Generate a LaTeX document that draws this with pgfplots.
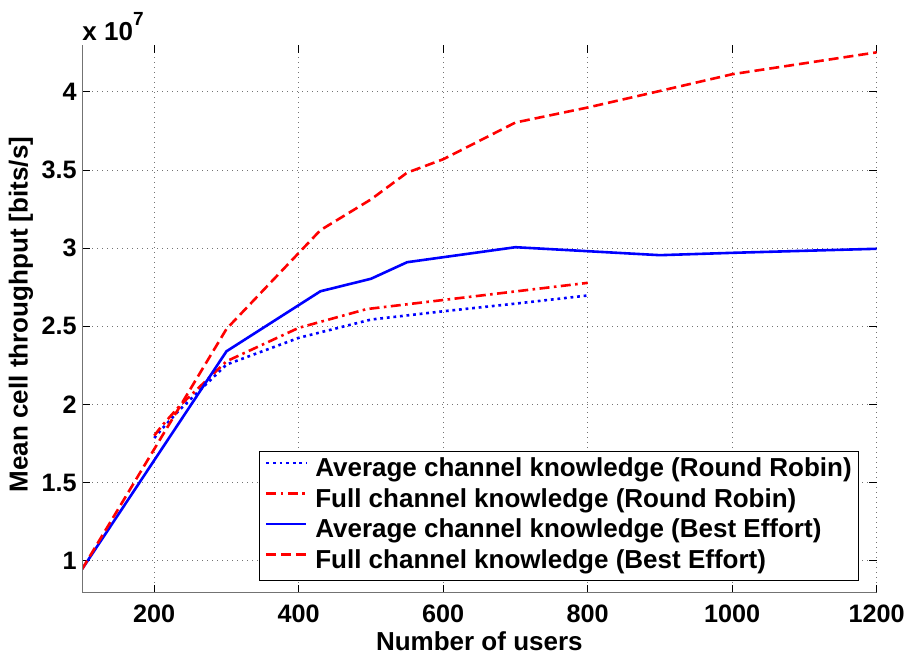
\documentclass[border=0pt]{standalone}
\usepackage{fontspec}
\setmainfont{Liberation Sans}
\usepackage{pgfplots}
\pgfplotsset{compat=1.18}
\newcommand{\lbl}{\fontsize{13}{15}\selectfont\bfseries}
\newcommand{\tlbl}{\fontsize{12.6}{15}\selectfont\bfseries}
\begin{document}
\begin{tikzpicture}
\begin{axis}[
  name=ax,
  scale only axis,
  width=397.35pt, height=273.85pt,
  xmin=100, xmax=1200, ymin=0.795, ymax=4.30,
  xtick={200,400,600,800,1000,1200},
  xticklabels={200,400,600,800,1000,1200},
  ytick={1,1.5,2,2.5,3,3.5,4},
  yticklabels={1,1.5,2,2.5,3,3.5,4},
  tick label style={font=\tlbl},
  xticklabel style={inner sep=0pt, text depth=0pt, anchor=north, yshift=-6pt},
  yticklabel style={inner sep=0pt, anchor=east, xshift=-2.5pt},
  label style={font=\lbl},
  xlabel={Number of users},
  ylabel={Mean cell throughput [bits/s]},
  xlabel style={at={(axis description cs:0.5,0)}, anchor=north, inner sep=0pt, text depth=0pt, yshift=-19.5pt},
  ylabel style={at={(axis description cs:-0.0768,0.508)}, anchor=center, inner sep=0pt},
  grid=major,
  grid style={black!55, line width=0.4pt, dash pattern=on 0.5pt off 2pt},
  axis line style={draw=none},
  tick style={black, line width=0.5pt},
  major tick length=4pt,
  tick align=inside,
  legend style={at={(0.978,0.0214)}, anchor=south east, draw=black, line width=0.5pt,
    fill=white, font=\lbl, inner xsep=3pt, inner ysep=2.7pt, row sep=1.85pt, column sep=3.3pt,
    nodes={inner sep=0.5pt, text height=9.4pt, text depth=3pt}},
  legend cell align=left,
  legend image code/.code={\draw[#1] (0pt,3.5pt) -- (20pt,3.5pt);},
]
\addplot[blue, line width=1.3pt, dash pattern=on 1.4pt off 1.9pt] coordinates {
  (200,1.785) (210,1.84) (235,1.965) (300,2.255) (400,2.426) (500,2.543) (600,2.596) (700,2.645) (800,2.697)};
\addlegendentry{Average channel knowledge (Round Robin)}
\addplot[red, line width=1.3pt, dash pattern=on 5pt off 2.2pt on 1.3pt off 2.2pt] coordinates {
  (200,1.80) (210,1.86) (235,1.99) (300,2.276) (400,2.49) (494,2.61) (800,2.778)};
\addlegendentry{Full channel knowledge (Round Robin)}
\addplot[blue, line width=1.3pt] coordinates {
  (100,0.945) (300,2.34) (430,2.724) (500,2.804) (550,2.91) (700,3.006) (900,2.955) (1000,2.97) (1200,2.996)};
\addlegendentry{Average channel knowledge (Best Effort)}
\addplot[red, line width=1.3pt, dash pattern=on 5pt off 2.5pt] coordinates {
  (100,0.945) (300,2.483) (430,3.115) (500,3.312) (550,3.483) (600,3.569) (700,3.804) (800,3.90) (900,4.006) (1000,4.113) (1200,4.253)};
\addlegendentry{Full channel knowledge (Best Effort)}
\draw[black!55, line width=0.8pt] (rel axis cs:0,1) -- (rel axis cs:0,0) -- (rel axis cs:1,0);
\end{axis}
\node[anchor=base west, inner sep=0pt, font=\lbl] at ([yshift=2.5pt]ax.north west) {x 10\raisebox{0.55em}{\fontsize{9.5}{10}\selectfont\bfseries 7}};
\pgfresetboundingbox
\path[use as bounding box] ([shift={(-41pt,-31.15pt)}]ax.south west) rectangle ([shift={(17.65pt,22.5pt)}]ax.north east);
\end{tikzpicture}
\end{document}
